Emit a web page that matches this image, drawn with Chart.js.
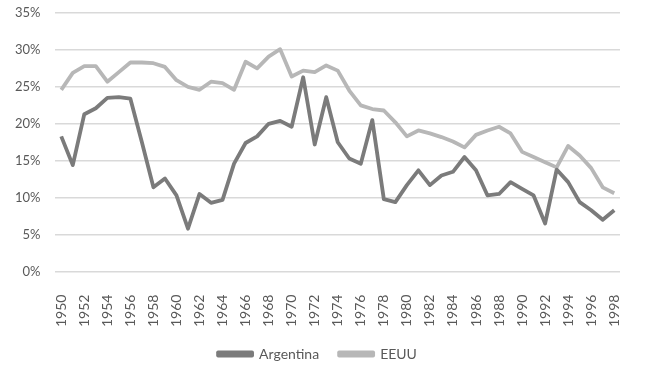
<!DOCTYPE html>
<html>
<head>
<meta charset="utf-8">
<script src="https://cdn.jsdelivr.net/npm/chart.js@4/dist/chart.umd.min.js"></script>
<style>
  html, body { margin: 0; padding: 0; background: #fff; }
  #wrap { width: 650px; height: 379px; }
</style>
</head>
<body>
<div id="wrap"><canvas id="myChart"></canvas></div>
<script>
const years = [];
for (let y = 1950; y <= 1998; y++) years.push(String(y));

const argentina = [18.3, 14.4, 21.3, 22.1, 23.5, 23.6, 23.4, 17.5, 11.4, 12.6,
  10.3, 5.8, 10.5, 9.3, 9.7, 14.6, 17.4, 18.3, 20.0, 20.4,
  19.6, 26.3, 17.2, 23.6, 17.5, 15.3, 14.6, 20.5, 9.8, 9.4,
  11.7, 13.7, 11.7, 13.0, 13.5, 15.5, 13.7, 10.3, 10.5, 12.1,
  11.2, 10.3, 6.5, 13.8, 12.1, 9.4, 8.3, 7.0, 8.3];

const eeuu = [24.6, 26.9, 27.8, 27.8, 25.7, 27.0, 28.3, 28.3, 28.2, 27.7,
  25.9, 25.0, 24.6, 25.7, 25.5, 24.6, 28.4, 27.5, 29.1, 30.1,
  26.4, 27.2, 27.0, 27.9, 27.2, 24.5, 22.5, 22.0, 21.8, 20.2,
  18.3, 19.1, 18.7, 18.2, 17.6, 16.8, 18.5, 19.1, 19.6, 18.7,
  16.2, 15.5, 14.8, 14.1, 17.0, 15.7, 14.0, 11.4, 10.6];

const textColor = '#595959';
const fontFamily = 'Lato, "Open Sans", sans-serif';

function drawChart() {
    const ctx = document.getElementById('myChart').getContext('2d');
    new Chart(ctx, {
        type: 'line',
        data: {
            labels: years,
            datasets: [{
                label: 'Argentina',
                data: argentina,
                borderColor: '#7b7b7b',
                backgroundColor: '#7b7b7b',
                borderWidth: 3.8,
                borderJoinStyle: 'round',
                pointRadius: 0,
                tension: 0,
                fill: false
            }, {
                label: 'EEUU',
                data: eeuu,
                borderColor: '#b7b7b7',
                backgroundColor: '#b7b7b7',
                borderWidth: 3.8,
                borderJoinStyle: 'round',
                pointRadius: 0,
                tension: 0,
                fill: false
            }]
        },
        options: {
            responsive: true,
            maintainAspectRatio: false,
            animation: false,
            layout: { padding: { top: 13, right: 30, left: 15, bottom: 8 } },
            plugins: {
                tooltip: { enabled: false },
                legend: {
                    position: 'bottom',
                    labels: {
                        boxWidth: 34,
                        boxHeight: 3,
                        color: textColor,
                        font: { family: fontFamily, size: 14 },
                        padding: 20
                    }
                }
            },
            scales: {
                x: {
                    offset: true,
                    border: { display: false },
                    // invisible tick marks just to push the year labels down
                    grid: { drawOnChartArea: false, tickColor: 'transparent', tickLength: 23 },
                    ticks: {
                        autoSkip: false,
                        maxRotation: 90,
                        minRotation: 90,
                        padding: 0,
                        color: textColor,
                        font: { family: fontFamily, size: 14 },
                        callback: function (val, i) {
                            return i % 2 === 0 ? this.getLabelForValue(val) : '';
                        }
                    }
                },
                y: {
                    min: 0,
                    max: 35,
                    border: { display: false },
                    grid: { color: '#d9d9d9', lineWidth: 1.5, tickColor: 'transparent', tickLength: 15 },
                    ticks: {
                        stepSize: 5,
                        padding: 0,
                        color: textColor,
                        font: { family: fontFamily, size: 13 },
                        callback: v => v + '%'
                    }
                }
            }
        }
    });
}

drawChart();
</script>
</body>
</html>
